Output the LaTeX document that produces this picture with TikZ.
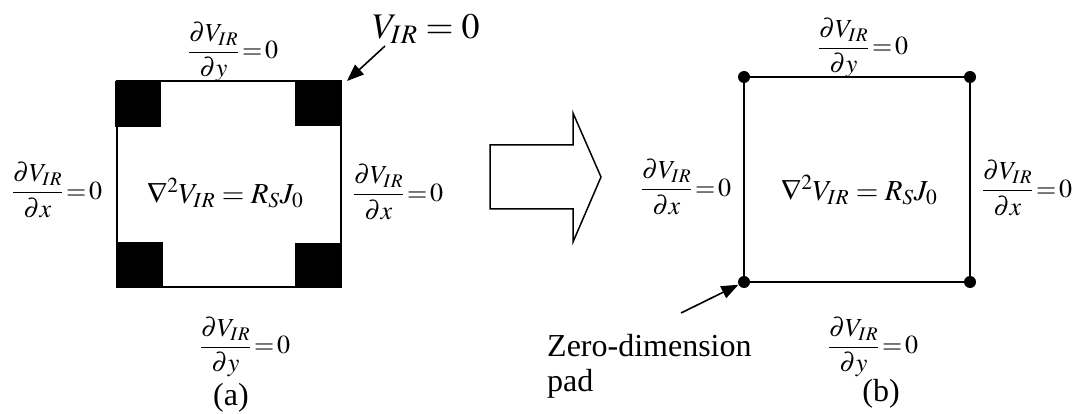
\documentclass[tikz,border=0pt]{standalone}
\usepackage{amsmath}
\usepackage{mathptmx}
\usepackage[no-math]{fontspec}
\setmainfont{Liberation Serif}
\usetikzlibrary{arrows.meta}
\newcommand{\tighteq}{\mkern2mu{=}\mkern2mu}
\begin{document}
\begin{tikzpicture}[x=1pt,y=-1pt,
  frac/.style={inner sep=0pt, font=\fontsize{26}{30}\selectfont},
  eqn/.style={inner sep=0pt, font=\fontsize{29}{32}\selectfont},
  big/.style={inner sep=0pt, font=\fontsize{36}{40}\selectfont},
  lbl/.style={inner sep=0pt, font=\fontsize{32}{35}\selectfont},
  boxline/.style={line width=2.4pt},
  pad/.style={fill=black},
  dot/.style={circle, fill=black, inner sep=0pt, minimum size=12pt},
  pointer/.style={line width=1.6pt, -{Triangle[length=17pt,width=13pt]}},
  hollow/.style={line width=1.5pt, line join=miter}]
\useasboundingbox (0,0) rectangle (1073,414);
% ---------- (a) ----------
\draw[boxline] (117,81) rectangle (341,287);
\fill[pad] (115,81) rectangle (161,127);
\fill[pad] (295,81) rectangle (341,126);
\fill[pad] (117,242) rectangle (163,287);
\fill[pad] (295,243) rectangle (341,288);
\coordinate (cornerA) at (347,81);
\node[frac] (ta) at (233,52) {$\dfrac{\partial V_{IR}}{\partial y}\tighteq 0$};
\node[frac] (la) at (57,190) {$\dfrac{\partial V_{IR}}{\partial x}\tighteq 0$};
\node[eqn] (ca) at (225,193) {$\nabla^2 V_{IR} = R_S J_0$};
\node[frac] (ra) at (398,192) {$\dfrac{\partial V_{IR}}{\partial x}\tighteq 0$};
\node[frac] (ba) at (245,347) {$\dfrac{\partial V_{IR}}{\partial y}\tighteq 0$};
\node[lbl] (capa) at (231,398) {(a)};
\node[big] (v0) at (426,29) {$V_{IR}=0$};
\coordinate (v0tail) at (385,46);
\draw[pointer] (v0tail) -- (cornerA);
% ---------- transition arrow ----------
\draw[hollow] (490,145) -- (573,145) -- (573,113) -- (601,177) -- (573,242)
  -- (573,209) -- (490,209) -- cycle;
% ---------- (b) ----------
\draw[boxline] (744,77) rectangle (970,282);
\node[dot] (d1) at (744,77) {};
\node[dot] (d2) at (970,77) {};
\node[dot] (d3) at (744,282) {};
\node[dot] (d4) at (970,282) {};
\node[frac] (tb) at (863,48) {$\dfrac{\partial V_{IR}}{\partial y}\tighteq 0$};
\node[frac] (lb) at (686,187) {$\dfrac{\partial V_{IR}}{\partial x}\tighteq 0$};
\node[eqn] (cb) at (859,190) {$\nabla^2 V_{IR} = R_S J_0$};
\node[frac] (rb) at (1027,188) {$\dfrac{\partial V_{IR}}{\partial x}\tighteq 0$};
\node[frac] (bb) at (873,347) {$\dfrac{\partial V_{IR}}{\partial y}\tighteq 0$};
\node[lbl] (capb) at (881,394) {(b)};
\node[lbl, anchor=west, align=left] (zd) at (547,366) {Zero-dimension\\pad};
\coordinate (zdtail) at (681,313);
\draw[pointer] (zdtail) -- (d3);
\end{tikzpicture}
\end{document}
